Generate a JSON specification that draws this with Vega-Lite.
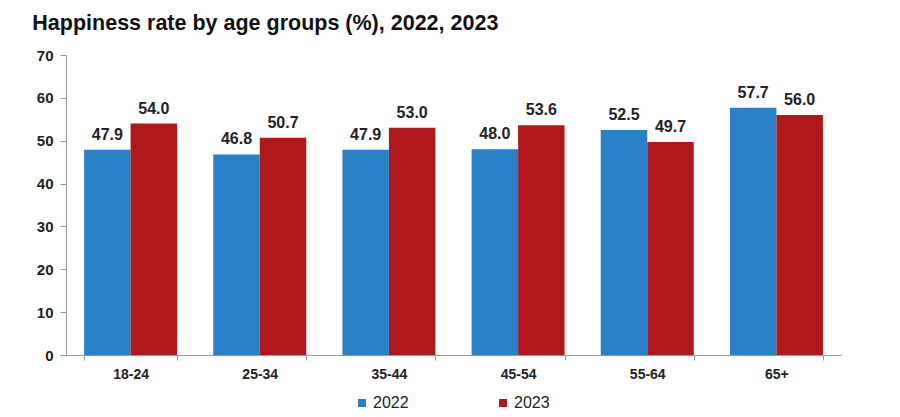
{
  "$schema": "https://vega.github.io/schema/vega-lite/v6.json",
  "width": 775,
  "height": 300,
  "autosize": "none",
  "padding": {"left": 66, "top": 55, "right": 59, "bottom": 62},
  "background": "white",
  "title": {
    "text": "Happiness rate by age groups (%), 2022, 2023",
    "anchor": "start",
    "dx": -4,
    "offset": 14,
    "font": "Liberation Sans",
    "fontSize": 21.5,
    "fontWeight": "bold",
    "color": "#111111"
  },
  "data": {
    "values": [
      {"age": "18-24", "year": "2022", "rate": 47.9},
      {"age": "18-24", "year": "2023", "rate": 54.0},
      {"age": "25-34", "year": "2022", "rate": 46.8},
      {"age": "25-34", "year": "2023", "rate": 50.7},
      {"age": "35-44", "year": "2022", "rate": 47.9},
      {"age": "35-44", "year": "2023", "rate": 53.0},
      {"age": "45-54", "year": "2022", "rate": 48.0},
      {"age": "45-54", "year": "2023", "rate": 53.6},
      {"age": "55-64", "year": "2022", "rate": 52.5},
      {"age": "55-64", "year": "2023", "rate": 49.7},
      {"age": "65+", "year": "2022", "rate": 57.7},
      {"age": "65+", "year": "2023", "rate": 56.0}
    ]
  },
  "encoding": {
    "x": {
      "field": "age",
      "type": "nominal",
      "sort": null,
      "scale": {"paddingInner": 0.28, "paddingOuter": 0.14},
      "axis": {
        "title": null,
        "labelAngle": 0,
        "tickBand": "extent",
        "tickSize": 5,
        "tickColor": "#999999",
        "domainColor": "#999999",
        "labelFont": "Liberation Sans",
        "labelFontSize": 14,
        "labelFontWeight": "bold",
        "labelColor": "#222222",
        "labelPadding": 7,
        "grid": false
      }
    },
    "xOffset": {"field": "year", "type": "nominal"},
    "y": {
      "field": "rate",
      "type": "quantitative",
      "scale": {"domain": [0, 70]},
      "axis": {
        "title": null,
        "values": [0, 10, 20, 30, 40, 50, 60, 70],
        "grid": false,
        "tickSize": 6,
        "tickColor": "#999999",
        "domainColor": "#999999",
        "labelFont": "Liberation Sans",
        "labelFontSize": 15,
        "labelFontWeight": "bold",
        "labelColor": "#222222",
        "labelPadding": 7
      }
    }
  },
  "layer": [
    {
      "mark": {"type": "bar"},
      "encoding": {
        "color": {
          "field": "year",
          "type": "nominal",
          "scale": {"domain": ["2022", "2023"], "range": ["#2a80c6", "#b0181b"]},
          "legend": {
            "title": null,
            "orient": "none",
            "legendX": 288,
            "legendY": 340,
            "direction": "horizontal",
            "symbolType": "square",
            "symbolSize": 64,
            "symbolStrokeWidth": 0,
            "labelFont": "Liberation Sans",
            "labelFontSize": 16,
            "labelColor": "#222222",
            "labelOffset": 3,
            "columnPadding": 86
          }
        }
      }
    },
    {
      "mark": {
        "type": "text",
        "baseline": "alphabetic",
        "dy": -10,
        "font": "Liberation Sans",
        "fontSize": 16,
        "fontWeight": "bold",
        "color": "#222222"
      },
      "encoding": {
        "text": {"field": "rate", "type": "quantitative", "format": ".1f"}
      }
    }
  ],
  "config": {"view": {"stroke": null}}
}
